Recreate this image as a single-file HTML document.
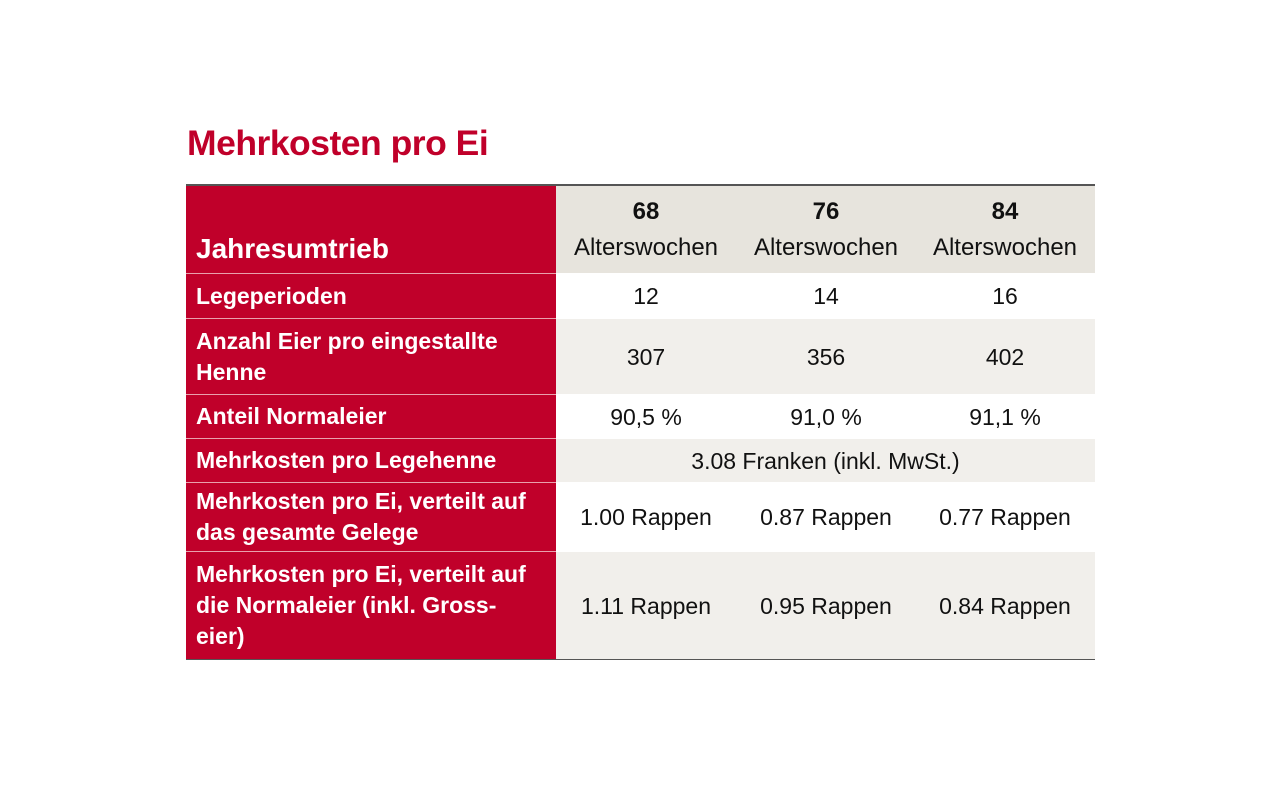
<!DOCTYPE html>
<html><head><meta charset="utf-8"><style>
body{margin:0;width:1280px;height:801px;background:#fff;position:relative;font-family:"Liberation Sans",sans-serif;overflow:hidden}
.t{position:absolute;left:187px;top:123px;font-size:35.5px;font-weight:bold;color:#c0002a;letter-spacing:-0.5px}
.row{position:absolute;left:186px;width:909px}
.lab{position:absolute;left:0;top:0;bottom:0;width:370px;background:#c0002a;color:#fff;font-weight:bold;font-size:23px;display:flex;align-items:center;padding-left:10px;box-sizing:border-box;line-height:31px;white-space:nowrap}
.c{position:absolute;top:0;bottom:0;width:180px;display:flex;align-items:center;justify-content:center;font-size:23px;color:#111;text-align:center;line-height:36px;white-space:nowrap}
.sep{position:absolute;left:186px;width:370px;height:1px;background:#e9a0ad}
</style></head><body>
<div class="t">Mehrkosten pro Ei</div>
<div style="position:absolute;left:186px;top:184px;width:909px;height:2px;background:#555"></div>
<div class="row" style="top:186px;height:87px;background:#e7e4dd">
 <div class="lab" style="align-items:flex-end;padding-bottom:9px;font-size:28px">Jahresumtrieb</div>
 <div class="c" style="left:370px;font-size:24px"><div><b>68</b><br>Alterswochen</div></div>
 <div class="c" style="left:550px;font-size:24px"><div><b>76</b><br>Alterswochen</div></div>
 <div class="c" style="left:729px;font-size:24px"><div><b>84</b><br>Alterswochen</div></div>
</div>
<div class="row" style="top:274px;height:44px;background:#fff">
 <div class="lab">Legeperioden</div>
 <div class="c" style="left:370px">12</div><div class="c" style="left:550px">14</div><div class="c" style="left:729px">16</div>
</div>
<div class="row" style="top:319px;height:75px;background:#f1efeb">
 <div class="lab">Anzahl Eier pro eingestallte<br>Henne</div>
 <div class="c" style="left:370px">307</div><div class="c" style="left:550px">356</div><div class="c" style="left:729px">402</div>
</div>
<div class="row" style="top:395px;height:43px;background:#fff">
 <div class="lab">Anteil Normaleier</div>
 <div class="c" style="left:370px">90,5 %</div><div class="c" style="left:550px">91,0 %</div><div class="c" style="left:729px">91,1 %</div>
</div>
<div class="row" style="top:439px;height:43px;background:#f1efeb">
 <div class="lab">Mehrkosten pro Legehenne</div>
 <div class="c" style="left:370px;width:539px">3.08 Franken (inkl. MwSt.)</div>
</div>
<div class="row" style="top:483px;height:68px;background:#fff">
 <div class="lab">Mehrkosten pro Ei, verteilt auf<br>das gesamte Gelege</div>
 <div class="c" style="left:370px">1.00 Rappen</div><div class="c" style="left:550px">0.87 Rappen</div><div class="c" style="left:729px">0.77 Rappen</div>
</div>
<div class="row" style="top:552px;height:107px;background:#f1efeb">
 <div class="lab">Mehrkosten pro Ei, verteilt auf<br>die Normaleier (inkl. Gross-<br>eier)</div>
 <div class="c" style="left:370px">1.11 Rappen</div><div class="c" style="left:550px">0.95 Rappen</div><div class="c" style="left:729px">0.84 Rappen</div>
</div>
<div class="sep" style="top:273px"></div><div class="sep" style="top:318px"></div><div class="sep" style="top:394px"></div><div class="sep" style="top:438px"></div><div class="sep" style="top:482px"></div><div class="sep" style="top:551px"></div>
<div style="position:absolute;left:186px;top:659px;width:909px;height:1px;background:#555"></div>
</body></html>
